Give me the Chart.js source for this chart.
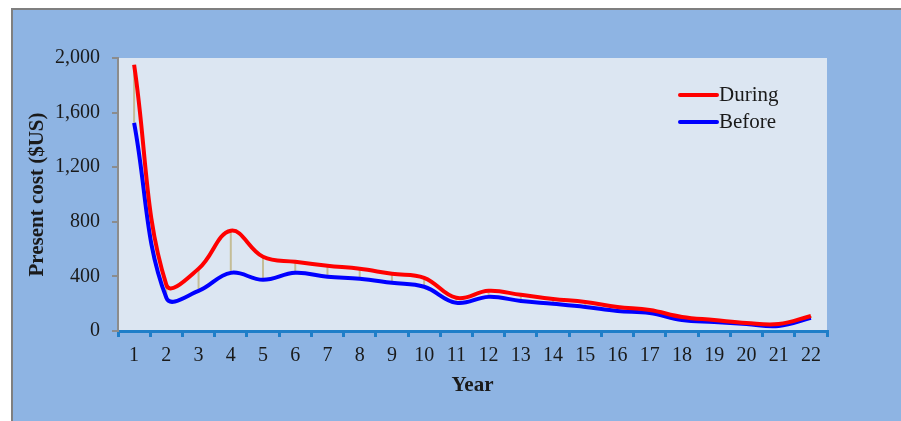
<!DOCTYPE html>
<html>
<head>
<meta charset="utf-8">
<script src="https://cdn.jsdelivr.net/npm/chart.js@4.4.1/dist/chart.umd.min.js"></script>
<style>
  html, body { margin: 0; padding: 0; background: #fff; overflow: hidden; }
  #frame {
    position: absolute; left: 11px; top: 8px; width: 1000px; height: 500px;
    background: #8EB4E3; border: 2px solid #7F7F7F;
  }
  #wrap { position: absolute; left: 0; top: 0; width: 901px; height: 421px; }
</style>
</head>
<body>
<div id="frame"></div>
<div id="wrap"><canvas id="costChart" width="901" height="421"></canvas></div>
<script>
const years = ["1","2","3","4","5","6","7","8","9","10","11","12","13","14","15","16","17","18","19","20","21","22"]
const during = [1950, 338, 456, 735, 544, 507, 478, 456, 419, 390, 243, 294, 265, 235, 213, 176, 154, 103, 81, 59, 51, 110]
const before = [1525, 243, 294, 426, 375, 426, 397, 382, 353, 324, 206, 250, 220, 199, 176, 147, 132, 81, 66, 51, 37, 96]
const yTicks = [0, 400, 800, 1200, 1600, 2000]

const serif = "'Liberation Serif', 'Times New Roman', serif"

// light panel behind the plot
const plotBg = {
  id: "plotBg",
  beforeDraw(chart) {
    const {ctx, chartArea: a} = chart
    ctx.save()
    ctx.fillStyle = "#DCE6F2"
    ctx.fillRect(a.left, a.top, a.right - a.left, a.bottom - a.top)
    ctx.restore()
  }
}

// high-low lines joining the two series at every year
const dropLines = {
  id: "dropLines",
  beforeDatasetsDraw(chart) {
    const ctx = chart.ctx
    const top = chart.getDatasetMeta(0).data
    const bottom = chart.getDatasetMeta(1).data
    ctx.save()
    ctx.strokeStyle = "#C4BD97"
    ctx.lineWidth = 2
    top.forEach((p, i) => {
      ctx.beginPath()
      ctx.moveTo(p.x, p.y)
      ctx.lineTo(bottom[i].x, bottom[i].y)
      ctx.stroke()
    })
    ctx.restore()
  }
}

// legend in the upper right of the plot
const sideLegend = {
  id: "sideLegend",
  afterDraw(chart) {
    const ctx = chart.ctx
    ctx.save()
    ctx.font = "21px " + serif
    ctx.textBaseline = "middle"
    chart.data.datasets.forEach((ds, i) => {
      const y = 95 + i * 27
      ctx.strokeStyle = ds.borderColor
      ctx.lineWidth = 4
      ctx.lineCap = "round"
      ctx.beginPath()
      ctx.moveTo(680, y)
      ctx.lineTo(717, y)
      ctx.stroke()
      ctx.fillStyle = "#1a1a1a"
      ctx.fillText(ds.label, 719, y)
    })
    ctx.restore()
  }
}

new Chart(document.getElementById("costChart"), {
  type: "line",
  data: {
    labels: years,
    datasets: [
      { label: "During", data: during, borderColor: "#FF0000", borderWidth: 4, tension: 0.4, pointRadius: 0 },
      { label: "Before", data: before, borderColor: "#0000FF", borderWidth: 4, tension: 0.4, pointRadius: 0 }
    ]
  },
  options: {
    responsive: false,
    animation: false,
    layout: { padding: { top: 58, right: 74, left: 0, bottom: 0 } },
    plugins: { legend: { display: false }, tooltip: { enabled: false } },
    scales: {
      x: {
        offset: true,
        afterFit(s) { s.height = 90 },
        grid: { offset: true, drawOnChartArea: false, tickLength: 6, tickColor: "#1F7EC8", lineWidth: 3 },
        border: { color: "#1F7EC8", width: 3 },
        ticks: { color: "#1a1a1a", padding: 7, font: { family: serif, size: 20 }, maxRotation: 0, autoSkip: false },
        title: { display: true, text: "Year", color: "#1a1a1a", font: { family: serif, size: 21, weight: "bold" }, padding: { top: 0, bottom: 23 } }
      },
      y: {
        min: 0,
        max: 2000,
        afterFit(s) { s.width = 118 },
        afterBuildTicks(s) { s.ticks = yTicks.map(v => ({ value: v })) },
        grid: { drawOnChartArea: false, tickLength: 6, tickColor: "#8C8C8C", lineWidth: 2 },
        border: { color: "#8C8C8C", width: 2 },
        ticks: { color: "#1a1a1a", padding: 12, font: { family: serif, size: 20 }, callback: v => v.toLocaleString("en-US") },
        title: { display: true, text: "Present cost ($US)", color: "#1a1a1a", font: { family: serif, size: 21, weight: "bold" }, padding: { top: 25, bottom: 0 } }
      }
    }
  },
  plugins: [plotBg, dropLines, sideLegend]
})
</script>
</body>
</html>
